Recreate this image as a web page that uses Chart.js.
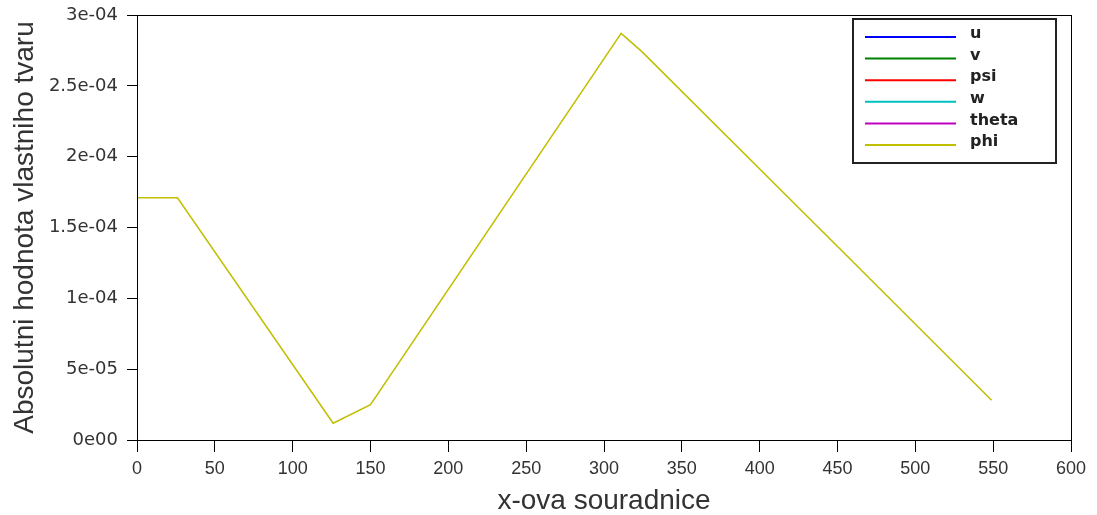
<!DOCTYPE html>
<html>
<head>
<meta charset="utf-8">
<script src="https://cdn.jsdelivr.net/npm/chart.js@4.4.1/dist/chart.umd.min.js"></script>
<style>
  html, body { margin: 0; padding: 0; background: #fff; }
  #wrap { width: 1097px; height: 515px; position: relative; }
</style>
</head>
<body>
<div id="wrap"><canvas id="c"></canvas></div>
<script>
// x positions along the beam and mode shape magnitudes
const xs = [0, 26, 126, 150, 311, 324, 456, 549];
const phi = [1.71e-4, 1.71e-4, 1.18e-5, 2.5e-5, 2.87e-4, 2.745e-4, 1.30e-4, 2.8e-5];
const u = [];
const v = [];
const psi = [];
const w = [];
const theta = [];

const seriesNames = ['u', 'v', 'psi', 'w', 'theta', 'phi'];
const seriesColors = ['#0000ff', '#008000', '#ff0000', '#00bfbf', '#bf00bf', '#bfbf00'];
const seriesValues = [u, v, psi, w, theta, phi];

const xTicks = [0, 50, 100, 150, 200, 250, 300, 350, 400, 450, 500, 550, 600];
const yTicks = [0, 5e-5, 1e-4, 1.5e-4, 2e-4, 2.5e-4, 3e-4];

function sciLabel(val) {
  const [m, e] = Number(val.toPrecision(6)).toExponential().split('e');
  const exp = parseInt(e, 10);
  return m + 'e' + (exp < 0 ? '-' : '') + String(Math.abs(exp)).padStart(2, '0');
}

// box around the plot + legend in the upper right corner
const frameAndLegend = {
  id: 'frameAndLegend',
  afterDraw(chart) {
    const { ctx, chartArea: a } = chart;
    ctx.save();
    ctx.strokeStyle = '#000';
    ctx.lineWidth = 1;
    ctx.strokeRect(a.left + 0.5, a.top + 0.5, a.right - a.left, a.bottom - a.top);

    const bx = a.right - 218, by = a.top + 4, bw = 203, bh = 144;
    ctx.fillStyle = '#fff';
    ctx.fillRect(bx, by, bw, bh);
    ctx.lineWidth = 2;
    ctx.strokeStyle = '#222';
    ctx.strokeRect(bx, by, bw, bh);

    ctx.font = 'bold 16px "DejaVu Sans", sans-serif';
    ctx.textBaseline = 'middle';
    ctx.textAlign = 'left';
    chart.data.datasets.forEach((ds, i) => {
      const y = by + 18 + i * 21.6;
      ctx.strokeStyle = ds.borderColor;
      ctx.lineWidth = 2;
      ctx.beginPath();
      ctx.moveTo(bx + 12, y);
      ctx.lineTo(bx + 103, y);
      ctx.stroke();
      ctx.fillStyle = '#222';
      ctx.fillText(ds.label, bx + 117, y - 3);
    });
    ctx.restore();
  }
};

new Chart(document.getElementById('c'), {
  type: 'line',
  data: {
    datasets: seriesNames.map((name, i) => ({
      label: name,
      data: seriesValues[i].map((val, k) => ({ x: xs[k], y: val })),
      borderColor: seriesColors[i],
      backgroundColor: seriesColors[i],
      borderWidth: 1.5,
      pointRadius: 0,
      tension: 0,
      fill: false
    }))
  },
  options: {
    responsive: true,
    maintainAspectRatio: false,
    animation: false,
    layout: { padding: { top: 15, right: 26, left: 0, bottom: 0 } },
    plugins: {
      legend: { display: false },
      tooltip: { enabled: false }
    },
    scales: {
      x: {
        type: 'linear',
        min: 0,
        max: 600,
        afterFit: s => { s.height = 75; s.paddingLeft = 0; s.paddingRight = 0; },
        afterBuildTicks: s => { s.ticks = xTicks.map(value => ({ value })); },
        grid: { drawOnChartArea: false, drawTicks: true, tickLength: 12, color: '#000' },
        border: { display: true, color: '#000', width: 1 },
        ticks: {
          color: '#333',
          padding: 6,
          maxRotation: 0,
          font: { family: '"Liberation Sans", Arial, sans-serif', size: 18 }
        },
        title: {
          display: true,
          text: 'x-ova souradnice',
          color: '#333',
          padding: { top: 0, bottom: 0 },
          font: { family: '"Liberation Sans", Arial, sans-serif', size: 28, lineHeight: 1 }
        }
      },
      y: {
        type: 'linear',
        min: 0,
        max: 3e-4,
        afterFit: s => { s.width = 137; s.paddingTop = 0; s.paddingBottom = 0; },
        afterBuildTicks: s => { s.ticks = yTicks.map(value => ({ value })); },
        grid: { drawOnChartArea: false, drawTicks: true, tickLength: 10, color: '#000' },
        border: { display: true, color: '#000', width: 1 },
        ticks: {
          color: '#333',
          padding: 9,
          font: { family: '"DejaVu Sans", sans-serif', size: 18 },
          callback: val => sciLabel(val)
        },
        title: {
          display: true,
          text: 'Absolutni hodnota vlastniho tvaru',
          color: '#333',
          padding: { top: 11, bottom: 0 },
          font: { family: '"Liberation Sans", Arial, sans-serif', size: 28, lineHeight: 1 }
        }
      }
    }
  },
  plugins: [frameAndLegend]
});
</script>
</body>
</html>
